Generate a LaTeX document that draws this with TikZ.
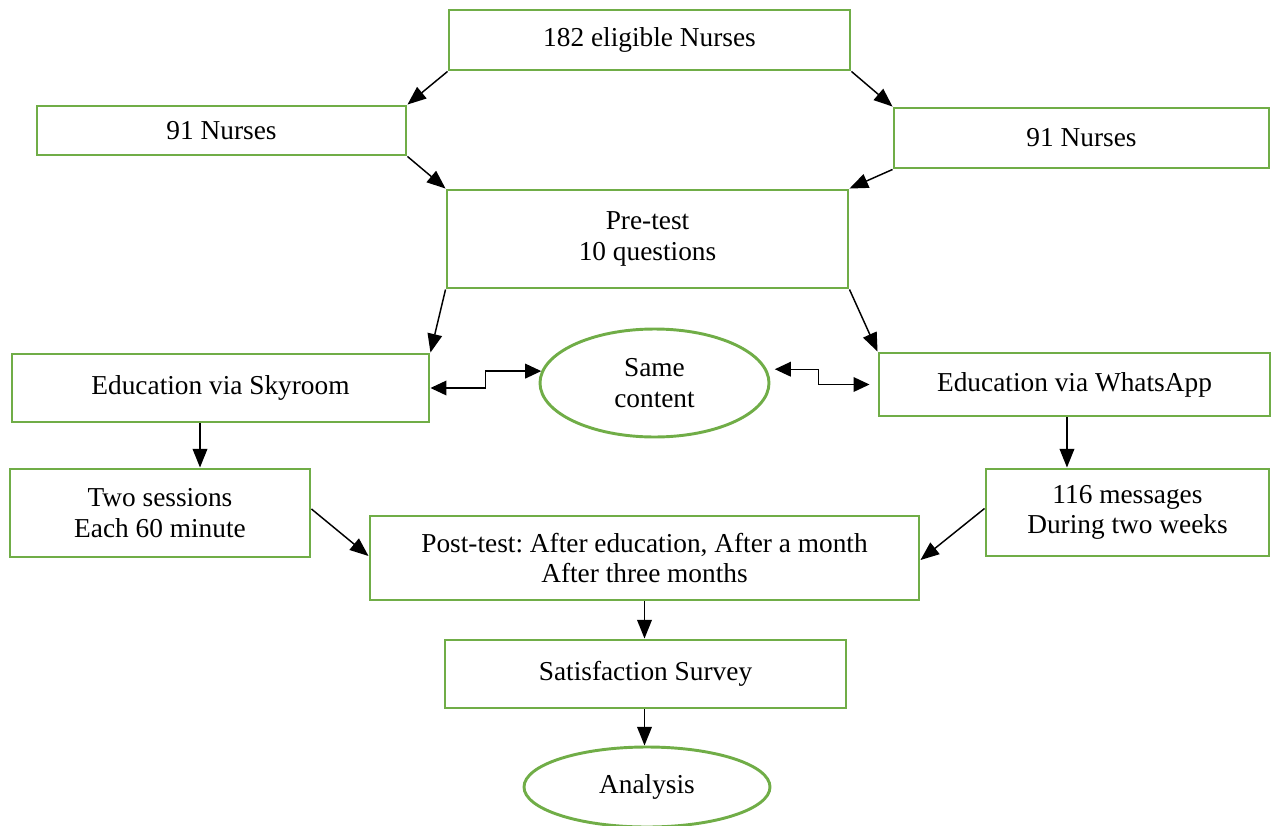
\documentclass[tikz,border=0pt]{standalone}
\usepackage{fontspec}
\setmainfont{Liberation Serif}
\usetikzlibrary{shapes.geometric,arrows.meta}
\definecolor{boxgreen}{RGB}{112,173,71}
\frenchspacing
\tikzset{every picture/.style={line width=0.75pt}}
\tikzset{
  box/.style={draw=boxgreen, line width=2.2pt, rectangle, inner sep=0pt, align=center, font=\fontsize{20.5pt}{23pt}\selectfont},
  oval/.style={draw=boxgreen, line width=2.2pt, ellipse, inner sep=0pt, align=center, font=\fontsize{20.5pt}{23pt}\selectfont},
  link/.style={draw=black, line width=1.1pt, -{Triangle[length=14pt,width=11pt]}},
  twoway/.style={draw=black, line width=1pt, {Triangle[length=12pt,width=11pt]}-{Triangle[length=12pt,width=11pt]}}
}

\begin{document}
\begin{tikzpicture}[x=0.75pt,y=0.75pt,yscale=-1,xscale=1]
        \useasboundingbox (0,0) rectangle (1271,825);

        % Text Node
        \node (eligible) at (649.5,40) [box, minimum width=300.75pt, minimum height=45pt] {182 eligible Nurses};
        % Text Node
        \node (nurseL) at (221.5,130.5) [box, minimum width=276.75pt, minimum height=36.75pt] {91 Nurses};
        % Text Node
        \node (nurseR) at (1081.5,138) [box, minimum width=281.25pt, minimum height=45pt] {91 Nurses};
        % Text Node
        \node (pretest) at (647.5,239) [box, minimum width=300.75pt, minimum height=73.5pt] {Pre-test\\10 questions};
        % Text Node
        \node (skyroom) at (220.5,388) [box, minimum width=312.75pt, minimum height=51pt] {Education via Skyroom};
        % Ellipse
        \node (same) at (654.5,383) [oval, minimum width=171.75pt, minimum height=81pt] {Same\\content};
        % Text Node
        \node (whatsapp) at (1074.5,384.5) [box, minimum width=293.25pt, minimum height=47.25pt] {Education via WhatsApp};
        % Text Node
        \node (sessions) at (160,513) [box, minimum width=225pt, minimum height=66pt] {Two sessions\\Each 60 minute};
        % Text Node
        \node (messages) at (1127.5,512.5) [box, minimum width=212.25pt, minimum height=65.25pt] {116 messages\\During two weeks};
        % Text Node
        \node (posttest) at (644.5,558) [box, minimum width=411.75pt, minimum height=63pt] {Post-test: After education, After a month\\After three months};
        % Text Node
        \node (survey) at (645.5,674) [box, minimum width=300.75pt, minimum height=51pt] {Satisfaction Survey};
        % Ellipse
        \node (analysis) at (647,787) [oval, minimum width=184.5pt, minimum height=60pt] {Analysis};

        %Straight Lines
        \draw [link] (eligible.south west) -- (nurseL.north east);
        \draw [link] (eligible.south east) -- (nurseR.north west);
        \draw [link] (nurseL.south east) -- (pretest.north west);
        \draw [link] (nurseR.south west) -- (pretest.north east);
        \draw [link] (pretest.south west) -- (skyroom.north east);
        \draw [link] (pretest.south east) -- (whatsapp.north west);
        \draw [link] ([xshift=30pt]sessions.north |- skyroom.south) -- ([xshift=30pt]sessions.north);
        \draw [link] ([xshift=-45.4pt]messages.north |- whatsapp.south) -- ([xshift=-45.4pt]messages.north);
        \draw [link] ([yshift=-3pt]sessions.east) -- ([yshift=-1.5pt]posttest.west);
        \draw [link] ([yshift=-3pt]messages.east -| messages.west) -- ([yshift=1.5pt]posttest.east);
        \draw [link] (posttest.south) -- (posttest.south |- survey.north);
        \draw [link] (survey.south -| posttest.south) -- (posttest.south |- analysis.north);
        %Elbow Lines
        \draw [twoway] (skyroom.east) -- ++(55,0) |- (same.174);
        \draw [twoway, shorten <=6pt, shorten >=6pt] (same.7) -- ++(52,0) |- (whatsapp.west);

\end{tikzpicture}
\end{document}
